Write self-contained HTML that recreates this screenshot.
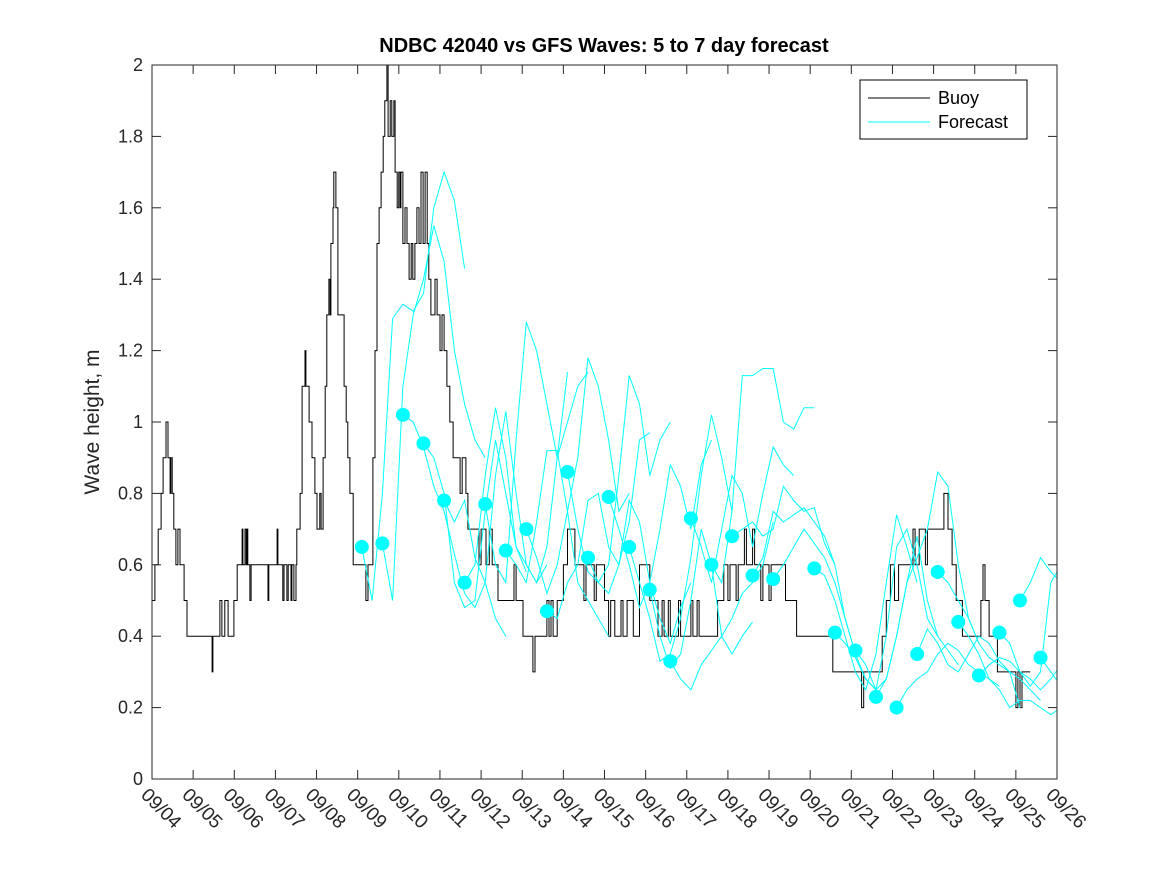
<!DOCTYPE html>
<html><head><meta charset="utf-8"><style>
body{margin:0;background:#fff;}
svg{display:block;font-family:"Liberation Sans",sans-serif;}
</style></head><body>
<svg id="chart" width="1167" height="875" xmlns="http://www.w3.org/2000/svg">
<rect width="1167" height="875" fill="#fff"/>
<text x="604" y="52" text-anchor="middle" font-size="20" font-weight="bold">NDBC 42040 vs GFS Waves: 5 to 7 day forecast</text>
<text transform="translate(99,422) rotate(-90)" text-anchor="middle" font-size="21" fill="#262626">Wave height, m</text>
<defs><clipPath id="clip"><rect x="152" y="65" width="905" height="714"/></clipPath></defs>
<g id="marks" clip-path="url(#clip)"></g>
<g id="axes"></g>
<g>
<rect x="860" y="80" width="167" height="59" fill="#fff" stroke="#000" stroke-width="1"/>
<line x1="868" y1="98" x2="930" y2="98" stroke="#000"/>
<text x="938" y="104" font-size="18">Buoy</text>
<line x1="868" y1="122" x2="930" y2="122" stroke="#00ffff"/>
<text x="938" y="128" font-size="18">Forecast</text>
</g>
</svg>
<script>
const xTickLabels=["09/04","09/05","09/06","09/07","09/08","09/09","09/10","09/11","09/12","09/13","09/14","09/15","09/16","09/17","09/18","09/19","09/20","09/21","09/22","09/23","09/24","09/25","09/26"];
const yTicks=[0,0.2,0.4,0.6,0.8,1,1.2,1.4,1.6,1.8,2];
// buoy observations: [day offset from 09/04, height m]
const buoyObs=[[0,0.5],[0.07,0.6],[0.15,0.7],[0.22,0.8],[0.27,0.9],[0.34,1.0],[0.39,0.9],[0.44,0.8],[0.46,0.9],[0.49,0.8],[0.53,0.7],[0.58,0.6],[0.63,0.7],[0.68,0.6],[0.78,0.5],[0.85,0.4],[1.46,0.3],[1.48,0.4],[1.65,0.5],[1.70,0.4],[1.77,0.5],[1.85,0.4],[1.99,0.5],[2.07,0.6],[2.19,0.7],[2.21,0.6],[2.26,0.7],[2.29,0.6],[2.31,0.7],[2.33,0.6],[2.38,0.5],[2.41,0.6],[2.82,0.5],[2.84,0.6],[3.04,0.7],[3.06,0.6],[3.18,0.5],[3.21,0.6],[3.28,0.5],[3.31,0.6],[3.38,0.5],[3.40,0.6],[3.45,0.5],[3.50,0.6],[3.52,0.7],[3.60,0.8],[3.65,1.1],[3.72,1.2],[3.74,1.1],[3.82,1.0],[3.89,0.9],[3.96,0.8],[4.01,0.7],[4.08,0.8],[4.11,0.7],[4.16,0.9],[4.21,1.1],[4.25,1.3],[4.30,1.4],[4.33,1.3],[4.35,1.5],[4.40,1.6],[4.42,1.7],[4.47,1.6],[4.52,1.3],[4.67,1.1],[4.72,1.0],[4.76,0.9],[4.81,0.8],[4.89,0.6],[5.20,0.5],[5.25,0.6],[5.37,0.9],[5.42,1.2],[5.47,1.5],[5.52,1.6],[5.57,1.7],[5.62,1.8],[5.66,1.9],[5.71,2.0],[5.74,1.8],[5.79,1.9],[5.83,1.8],[5.88,1.9],[5.91,1.7],[5.96,1.6],[6.00,1.7],[6.03,1.6],[6.05,1.7],[6.10,1.5],[6.15,1.6],[6.20,1.5],[6.25,1.4],[6.30,1.5],[6.34,1.4],[6.39,1.5],[6.44,1.6],[6.49,1.5],[6.54,1.7],[6.59,1.5],[6.64,1.7],[6.69,1.5],[6.73,1.4],[6.78,1.3],[6.88,1.4],[6.93,1.3],[7.00,1.2],[7.05,1.3],[7.10,1.2],[7.17,1.1],[7.24,1.0],[7.32,0.9],[7.49,0.8],[7.54,0.9],[7.63,0.8],[7.68,0.7],[7.95,0.6],[8.0,0.7],[8.12,0.6],[8.2,0.7],[8.27,0.6],[8.41,0.5],[8.8,0.6],[8.85,0.5],[9.02,0.4],[9.26,0.3],[9.31,0.4],[9.6,0.5],[9.65,0.4],[9.7,0.5],[9.75,0.4],[9.85,0.5],[10.0,0.6],[10.1,0.7],[10.28,0.6],[10.5,0.5],[10.55,0.6],[10.75,0.5],[10.8,0.6],[11.0,0.5],[11.1,0.4],[11.15,0.5],[11.25,0.4],[11.4,0.5],[11.45,0.4],[11.55,0.5],[11.7,0.4],[11.85,0.6],[12.1,0.5],[12.3,0.4],[12.4,0.5],[12.45,0.4],[12.55,0.5],[12.6,0.4],[12.8,0.5],[12.85,0.4],[13.1,0.5],[13.15,0.4],[13.25,0.5],[13.3,0.4],[13.75,0.5],[13.9,0.6],[14.0,0.5],[14.05,0.6],[14.2,0.5],[14.25,0.6],[14.4,0.7],[14.45,0.6],[14.6,0.7],[14.65,0.6],[14.8,0.5],[14.85,0.6],[15.0,0.5],[15.05,0.6],[15.4,0.5],[15.67,0.4],[16.55,0.3],[17.25,0.2],[17.3,0.3],[17.75,0.4],[17.85,0.5],[17.95,0.6],[18.05,0.5],[18.15,0.6],[18.5,0.7],[18.55,0.6],[18.65,0.7],[18.8,0.6],[18.85,0.7],[19.25,0.8],[19.35,0.7],[19.45,0.6],[19.55,0.5],[19.7,0.4],[20.15,0.5],[20.2,0.6],[20.25,0.5],[20.35,0.4],[20.55,0.3],[21.0,0.2],[21.05,0.3],[21.1,0.2],[21.15,0.3],[21.35,0.3]];
const dotDays=[5.1,5.6,6.1,6.6,7.1,7.6,8.1,8.6,9.1,9.6,10.1,10.6,11.1,11.6,12.1,12.6,13.1,13.6,14.1,14.6,15.1,16.1,16.6,17.1,17.6,18.1,18.6,19.1,19.6,20.1,20.6,21.1,21.6];
const dotValues=[0.65,0.66,1.02,0.94,0.78,0.55,0.77,0.64,0.70,0.47,0.86,0.62,0.79,0.65,0.53,0.33,0.73,0.60,0.68,0.57,0.56,0.59,0.41,0.36,0.23,0.20,0.35,0.58,0.44,0.29,0.41,0.50,0.34];
const forecastStep=0.25;
const fc0=[0.65,0.50,0.80,1.29,1.33,1.31,1.36,1.60,1.70,1.62,1.43];
const fc1=[0.66,0.50,1.10,1.30,1.40,1.55,1.45,1.20,1.05,0.95,0.90];
const fc2=[1.02,1.00,0.93,0.82,0.75,0.63,0.52,0.48,0.55,0.45,0.40];
const fc3=[0.94,0.90,0.80,0.55,0.48,0.50,0.75,0.95,0.80,0.65,0.58];
const fc4=[0.78,0.72,0.78,0.62,0.55,0.85,1.03,0.80,0.60,0.55,0.60];
const fc5=[0.55,0.60,0.85,1.04,0.90,0.65,0.60,0.55,0.65,0.90,1.14];
const fc6=[0.77,0.60,0.55,0.95,1.28,1.20,1.05,0.90,1.00,1.10,1.14];
const fc7=[0.64,0.60,0.55,0.72,0.92,0.92,0.75,0.55,0.50,0.45,0.40];
const fc8=[0.70,0.62,0.52,0.60,0.75,0.90,1.18,1.10,0.95,0.75,0.80];
const fc9=[0.47,0.45,0.55,0.60,0.78,0.80,0.65,0.60,0.72,0.95,0.97];
const fc10=[0.86,0.70,0.58,0.55,0.60,0.85,1.13,1.05,0.85,0.95,1.00];
const fc11=[0.62,0.55,0.52,0.60,0.78,0.72,0.55,0.45,0.38,0.48,0.55];
const fc12=[0.79,0.70,0.60,0.48,0.55,0.70,0.88,0.82,0.70,0.88,0.95];
const fc13=[0.65,0.55,0.45,0.33,0.35,0.45,0.62,0.85,1.02,0.90,0.75];
const fc14=[0.53,0.40,0.31,0.35,0.50,0.70,0.60,0.40,0.35,0.40,0.44];
const fc15=[0.33,0.28,0.25,0.32,0.36,0.40,0.45,0.52,0.55,0.60,0.72];
const fc16=[0.73,0.65,0.55,0.70,0.85,0.80,0.65,0.80,0.93,0.88,0.85];
const fc17=[0.60,0.55,0.75,1.13,1.13,1.15,1.15,1.00,0.98,1.04,1.04];
const fc18=[0.68,0.70,0.72,0.68,0.70,0.82,0.78,0.75,0.76,0.66,0.60];
const fc19=[0.57,0.62,0.75,0.72,0.74,0.76,0.72,0.68,0.60,0.45,0.35];
const fc20=[0.56,0.60,0.65,0.70,0.66,0.62,0.55,0.45,0.35,0.28,0.25];
const fc21=[0.59,0.57,0.50,0.40,0.30,0.25,0.35,0.55,0.74,0.65,0.55];
const fc22=[0.41,0.38,0.34,0.28,0.25,0.40,0.65,0.70,0.60,0.45,0.40];
const fc23=[0.36,0.32,0.25,0.28,0.40,0.55,0.68,0.50,0.40,0.36,0.32];
const fc24=[0.23,0.28,0.40,0.55,0.62,0.70,0.86,0.82,0.60,0.45,0.38];
const fc25=[0.20,0.25,0.28,0.30,0.35,0.38,0.36,0.32,0.30,0.28,0.26];
const fc26=[0.35,0.42,0.38,0.32,0.30,0.35,0.40,0.38,0.33,0.30,0.20];
const fc27=[0.58,0.55,0.50,0.45,0.38,0.34,0.32,0.30,0.28,0.25,0.22];
const fc28=[0.44,0.40,0.35,0.28,0.25,0.20,0.22,0.22,0.20,0.18,0.20];
const fc29=[0.29,0.32,0.34,0.33,0.30,0.28,0.25,0.28,0.32,0.40,0.50];
const fc30=[0.41,0.38,0.30,0.26,0.30,0.55,0.60,0.52,0.52,0.58,0.45];
const fc31=[0.50,0.55,0.62,0.58,0.55,0.52,0.50,0.45,0.38,0.30,0.35];
const fc32=[0.34,0.30,0.26,0.35,0.50,0.69,0.65,0.60,0.55,0.50,0.45];
const forecasts=[fc0,fc1,fc2,fc3,fc4,fc5,fc6,fc7,fc8,fc9,fc10,fc11,fc12,fc13,fc14,fc15,fc16,fc17,fc18,fc19,fc20,fc21,fc22,fc23,fc24,fc25,fc26,fc27,fc28,fc29,fc30,fc31,fc32];

const X0=152,X1=1057,Y0=779,Y1=65,DAYS=22,YMAX=2;
const xs=d=>X0+(X1-X0)*d/DAYS;
const ys=v=>Y0-(Y0-Y1)*v/YMAX;
const NS="http://www.w3.org/2000/svg";
const marks=document.getElementById('marks'),axes=document.getElementById('axes');
function mk(tag,attrs,parent){const e=document.createElementNS(NS,tag);for(const k in attrs)e.setAttribute(k,attrs[k]);parent.appendChild(e);return e;}

let d='';
buoyObs.forEach((p,i)=>{
  const x=xs(p[0]).toFixed(1),y=ys(p[1]).toFixed(1);
  if(i===0)d+='M'+x+' '+y;else d+=' H'+x+' V'+y;
});
const bl=mk('path',{d:d,fill:'none',stroke:'#000','stroke-width':1},marks);



forecasts.forEach((arr,k)=>{
  const pts=arr.map((v,i)=>xs(dotDays[k]+i*forecastStep).toFixed(1)+','+ys(v).toFixed(1)).join(' ');
  const pl=mk('polyline',{points:pts,fill:'none',stroke:'#00ffff','stroke-width':1},marks);
  
  
});
dotDays.forEach((dd,i)=>{
  const c=mk('ellipse',{cx:xs(dd),cy:ys(dotValues[i]),rx:7,ry:7,fill:'#00ffff'},marks);
  
  
});

const box=mk('rect',{x:X0,y:Y1,width:X1-X0,height:Y0-Y1,fill:'none',stroke:'#262626','stroke-width':1},axes);


yTicks.forEach(v=>{
  const y=ys(v);
  mk('line',{x1:X0,y1:y,x2:X0+9,y2:y,stroke:'#262626'},axes);
  mk('line',{x1:X1,y1:y,x2:X1-9,y2:y,stroke:'#262626'},axes);
  const t=mk('text',{x:X0-9,y:y+6,'text-anchor':'end','font-size':18,fill:'#262626'},axes);
  t.textContent=String(v);
  
  
});
xTickLabels.forEach((lab,i)=>{
  const x=xs(i);
  mk('line',{x1:x,y1:Y0,x2:x,y2:Y0-9,stroke:'#262626'},axes);
  mk('line',{x1:x,y1:Y1,x2:x,y2:Y1+9,stroke:'#262626'},axes);
  const t=mk('text',{x:0,y:0,'font-size':19,fill:'#262626',transform:'translate('+(x-12)+','+(Y0+17)+') rotate(45)'},axes);
  t.textContent=lab;
  
  
});
</script>
</body></html>
